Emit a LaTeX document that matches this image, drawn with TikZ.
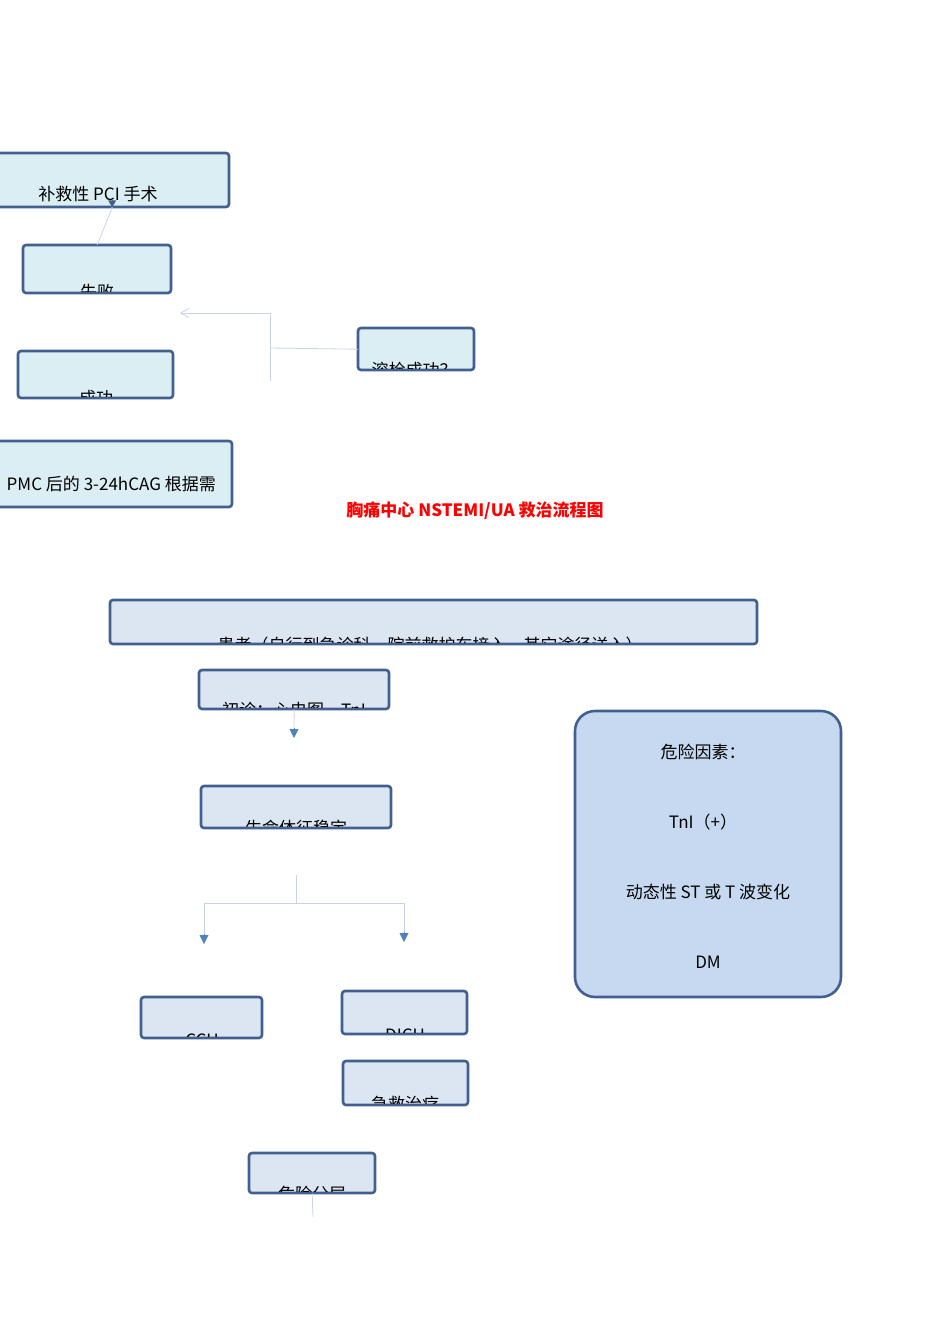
\documentclass[tikz,border=0pt]{standalone}
\usepackage{fontspec}
\setmainfont{Noto Sans CJK SC}
\usetikzlibrary{arrows.meta}
\definecolor{bd}{HTML}{41608F}
\definecolor{fa}{HTML}{DAEEF3}
\definecolor{fb}{HTML}{DCE6F2}
\definecolor{fr}{HTML}{C6D9F0}
\definecolor{ln}{HTML}{C8D3E3}
\definecolor{ar}{HTML}{4F81BD}
\tikzset{
 boxa/.style={draw=bd,line width=2.6pt,fill=fa,rounded corners=3pt},
 boxb/.style={draw=bd,line width=2.6pt,fill=fb,rounded corners=3pt},
 txt/.style={font=\fontsize{17}{20}\selectfont,anchor=base,inner sep=0pt},
 thin/.style={draw=ln,line width=0.8pt},
 tri/.style={-{Triangle[width=9pt,length=9pt]},ar}
}
\newcommand{\mybox}[6]{%
 \path[#1] (#2,#3) rectangle (#4,#5);
 \node[inner sep=0pt,minimum width={(#4-#2)*1pt},minimum height={(#5-#3)*1pt},anchor=north west] (#6) at (#2,#3) {};}
\newcommand{\cliptext}[7]{%
 \begin{scope}\clip (#1+2,#2+2) rectangle (#3-2,#4-2);
 \node[txt] at (#5,#6) {#7};\end{scope}}
\begin{document}
\begin{tikzpicture}[x=1pt,y=-1pt]
\useasboundingbox (0,0) rectangle (950,1344);
% top part
\mybox{boxa}{-5}{153}{229}{207}{pci}
\node[txt] at (98,200) {补救性 PCI 手术};
\mybox{boxa}{23}{245}{171}{293}{fail}
\cliptext{23}{245}{171}{293}{97}{298}{失败}
\mybox{boxa}{18}{351}{173}{398}{succ}
\cliptext{18}{351}{173}{398}{96}{404}{成功}
\mybox{boxa}{358}{328}{474}{370}{rs}
\cliptext{358}{328}{474}{370}{414}{376}{溶栓成功？}
\mybox{boxa}{-5}{441}{232}{507}{cag}
\begin{scope}\clip (-5,441) rectangle (230,507);
\node[txt,anchor=base east] at (216,490) {PMC 后的 3-24hCAG 根据需};\end{scope}
\draw[thin,-{Triangle[width=4pt,length=0.1pt]}] (fail.north) -- (pci.south);
\draw[-{Triangle[width=8pt,length=7pt]},bd,line width=0pt] ([yshift=7pt]pci.south) -- (pci.south);
\coordinate (j) at (270,348);
\coordinate (jt) at (270,313);
\coordinate (jb) at (270,381);
\coordinate (ja) at (180,313);
\draw[thin] (rs.west) -- (j);
\draw[thin] (jt) -- (jb);
\draw[thin,-{Straight Barb[length=8pt,width=9pt]}] (jt) -- (ja);
\node[text=red,font=\fontsize{17}{20}\selectfont\bfseries,inner sep=0pt] (title) at (475,511) {胸痛中心 NSTEMI/UA 救治流程图};
% lower part
\mybox{boxb}{110}{600}{757}{644}{pt}
\cliptext{110}{600}{757}{644}{430}{651}{患者（自行到急诊科、院前救护车接入、其它途径送入）}
\mybox{boxb}{199}{670}{389}{709}{cz}
\cliptext{199}{670}{389}{709}{294}{716}{初诊：心电图、TnI}
\mybox{boxb}{201}{786}{391}{828}{sm}
\cliptext{201}{786}{391}{828}{296}{834}{生命体征稳定}
\coordinate (a1) at (294,738);
\draw[thin] (cz.south) -- (294,728);
\draw[tri,line width=0pt] (294,728) -- (a1);
\coordinate (b0) at (296,875);
\coordinate (b1) at (296,903);
\coordinate (bl) at (204,903);
\coordinate (br) at (404,903);
\draw[thin] (b0) -- (b1) (bl) -- (br);
\draw[thin] (bl) -- (204,934) (br) -- (404,932);
\draw[tri,line width=0pt] (204,934) -- (204,944);
\draw[tri,line width=0pt] (404,932) -- (404,942);
\draw[draw=bd,line width=2.6pt,fill=fr,rounded corners=20pt] (575,711) rectangle (841,997);
\node[txt] (r1) at (703,758) {危险因素：};
\node[txt] (r2) at (703,828) {TnI（+）};
\node[txt] (r3) at (708,898) {动态性 ST 或 T 波变化};
\node[txt] (r4) at (708,968) {DM};
\mybox{boxb}{141}{997}{262}{1038}{ccu}
\cliptext{141}{997}{262}{1038}{202}{1046}{CCU}
\mybox{boxb}{342}{991}{467}{1034}{dicu}
\cliptext{342}{991}{467}{1034}{405}{1041}{DICU}
\mybox{boxb}{343}{1061}{468}{1105}{jj}
\cliptext{343}{1061}{468}{1105}{405}{1110}{急救治疗}
\mybox{boxb}{249}{1153}{375}{1193}{wx}
\cliptext{249}{1153}{375}{1193}{312}{1200}{危险分层}
\coordinate (e) at (313,1217);
\draw[thin] (wx.south) -- (e);
\end{tikzpicture}
\end{document}
